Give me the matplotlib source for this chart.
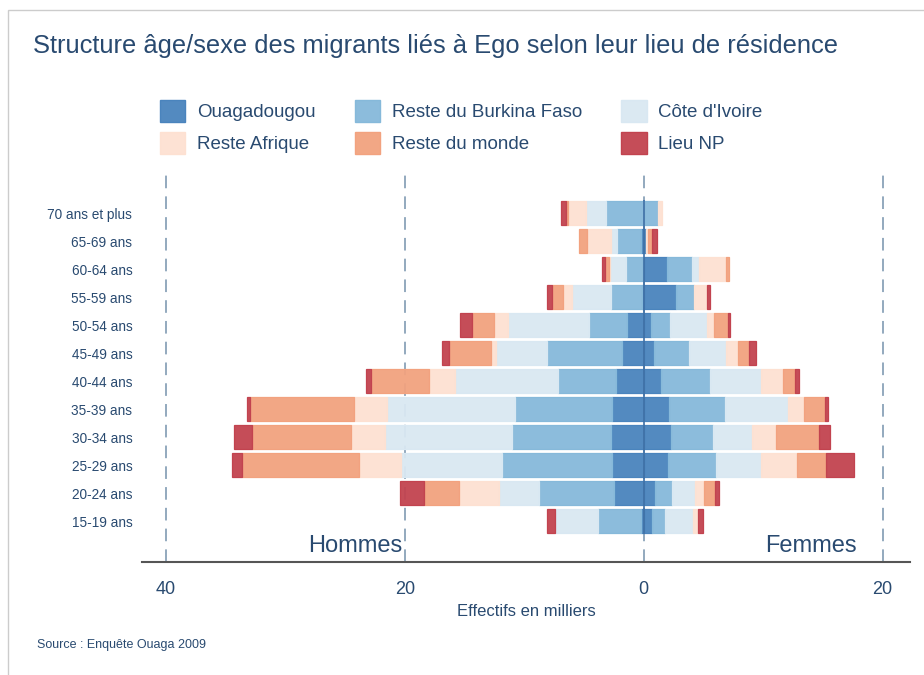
import numpy as np
import matplotlib
matplotlib.use("Agg")
import matplotlib.pyplot as plt
from matplotlib.patches import Patch, Rectangle
from matplotlib.colors import to_rgba

plt.rcParams['font.family'] = ['Liberation Sans', 'DejaVu Sans']

# age groups, top to bottom as in the chart
ages = ['70 ans et plus', '65-69 ans', '60-64 ans', '55-59 ans', '50-54 ans', '45-49 ans',
        '40-44 ans', '35-39 ans', '30-34 ans', '25-29 ans', '20-24 ans', '15-19 ans']

places = ['Ouagadougou', 'Reste du Burkina Faso', "Côte d'Ivoire",
          'Reste Afrique', 'Reste du monde', 'Lieu NP']
colors = ['#4a84bd', '#86b9da', '#d9e8f2', '#fde1d2', '#f2a27f', '#c2434f']

# effectifs en milliers - hommes
h_ouaga = [0, 0.25, 0.05, 0.14, 1.39, 1.81, 2.29, 2.65, 2.71, 2.65, 2.51, 0.2]
h_burkina = [3.12, 1.98, 1.39, 2.62, 3.18, 6.28, 4.88, 8.15, 8.31, 9.18, 6.28, 3.63]
h_civ = [1.67, 0.47, 1.34, 3.24, 6.78, 4.3, 8.59, 10.68, 10.65, 8.51, 3.32, 3.57]
h_afrique = [1.53, 2.04, 0.14, 0.75, 1.2, 0.42, 2.21, 2.79, 2.85, 3.51, 3.38, 0]
h_monde = [0.22, 0.69, 0.33, 0.92, 1.79, 3.51, 4.88, 8.65, 8.26, 9.77, 2.9, 0]
h_np = [0.42, 0, 0.22, 0.39, 1.06, 0.53, 0.42, 0.33, 1.53, 0.84, 1.98, 0.7]

# effectifs en milliers - femmes
f_ouaga = [0, 0.17, 1.98, 2.68, 0.64, 0.84, 1.42, 2.12, 2.32, 2.04, 0.92, 0.7]
f_burkina = [1.2, 0, 2.09, 1.53, 1.53, 2.96, 4.1, 4.71, 3.49, 4.04, 1.45, 1.12]
f_civ = [0, 0, 0.56, 0, 3.15, 3.12, 4.27, 5.24, 3.29, 3.77, 1.9, 2.32]
f_afrique = [0.36, 0.19, 2.23, 1.12, 0.61, 0.98, 1.87, 1.39, 2.01, 2.98, 0.75, 0.42]
f_monde = [0, 0.33, 0.28, 0, 1.12, 0.92, 1.03, 1.73, 3.54, 2.45, 0.98, 0]
f_np = [0, 0.42, 0, 0.2, 0.22, 0.56, 0.28, 0.22, 0.92, 2.29, 0.31, 0.42]

hommes = [h_ouaga, h_burkina, h_civ, h_afrique, h_monde, h_np]
femmes = [f_ouaga, f_burkina, f_civ, f_afrique, f_monde, f_np]

text_color = '#294a70'
grid_color = '#8aa3b9'
fill_alpha = 0.95

fig = plt.figure(figsize=(9.24, 6.75), dpi=100)
ax = fig.add_axes([142 / 924, 1 - 562 / 675, 768 / 924, 387 / 675])

y = np.arange(len(ages))[::-1]

# dashed gridlines behind the bars
for gx in [-40, -20, 0, 20]:
    ax.axvline(gx, color=grid_color, lw=1.3, ls=(0, (7, 4.5)), zorder=0)

for side, sign in [(hommes, -1), (femmes, 1)]:
    left = np.zeros(len(ages))
    for vals, col in zip(side, colors):
        vals = np.array(vals)
        lw = [0.9 if v > 0 else 0 for v in vals]
        ax.barh(y, sign * vals, left=sign * left, height=0.86,
                color=to_rgba(col, fill_alpha), edgecolor=col, linewidth=lw, zorder=2)
        left += vals

# centre line over the bars
ax.plot([0, 0], [-0.43, len(ages) - 0.57], color='#3f70a6', lw=1.4, alpha=0.85, zorder=3)

ax.set_xlim(-42, 22.3)
ax.set_ylim(-1.46, 12.36)
ax.set_yticks(y)
ax.set_yticklabels(ages, fontsize=9.8, color=text_color)
ax.set_xticks([-40, -20, 0, 20])
ax.set_xticklabels(['40', '20', '0', '20'], fontsize=13, color=text_color)
ax.tick_params(axis='both', length=0)
ax.tick_params(axis='x', pad=14)
ax.tick_params(axis='y', pad=7)
ax.set_xlabel('Effectifs en milliers', fontsize=12, color=text_color, labelpad=4)

for s in ['top', 'right', 'left']:
    ax.spines[s].set_visible(False)
ax.spines['bottom'].set_color('#555555')
ax.spines['bottom'].set_linewidth(1.5)

ax.text(-20.2, 0.012, 'Hommes', transform=ax.get_xaxis_transform(), ha='right', va='bottom',
        fontsize=17, color=text_color)
ax.text(17.8, 0.012, 'Femmes', transform=ax.get_xaxis_transform(), ha='right', va='bottom',
        fontsize=17, color=text_color)

# legend filled row by row
handles = [Patch(facecolor=to_rgba(c, fill_alpha), edgecolor=c, label=p) for p, c in zip(places, colors)]
order = [0, 3, 1, 4, 2, 5]
fig.legend([handles[i] for i in order], [places[i] for i in order], ncol=3,
           loc='upper left', bbox_to_anchor=(160 / 924, 1 - 100 / 675), frameon=False,
           fontsize=13.5, handlelength=1.35, handleheight=1.45, handletextpad=0.62,
           columnspacing=2.1, labelspacing=0.5, borderpad=0, borderaxespad=0,
           labelcolor=text_color)

fig.text(33 / 924, 1 - 46 / 675, 'Structure âge/sexe des migrants liés à Ego selon leur lieu de résidence',
         fontsize=18.4, color=text_color, va='center', ha='left')
fig.text(37 / 924, 1 - 645 / 675, 'Source : Enquête Ouaga 2009', fontsize=9, color=text_color,
         va='center', ha='left')

# card border
fig.add_artist(Rectangle((8 / 924, -0.1), 1.2, 1 - 10 / 675 + 0.1, transform=fig.transFigure,
                         fill=False, edgecolor='#cccccc', lw=1))

fig.savefig('out.png', dpi=100)
